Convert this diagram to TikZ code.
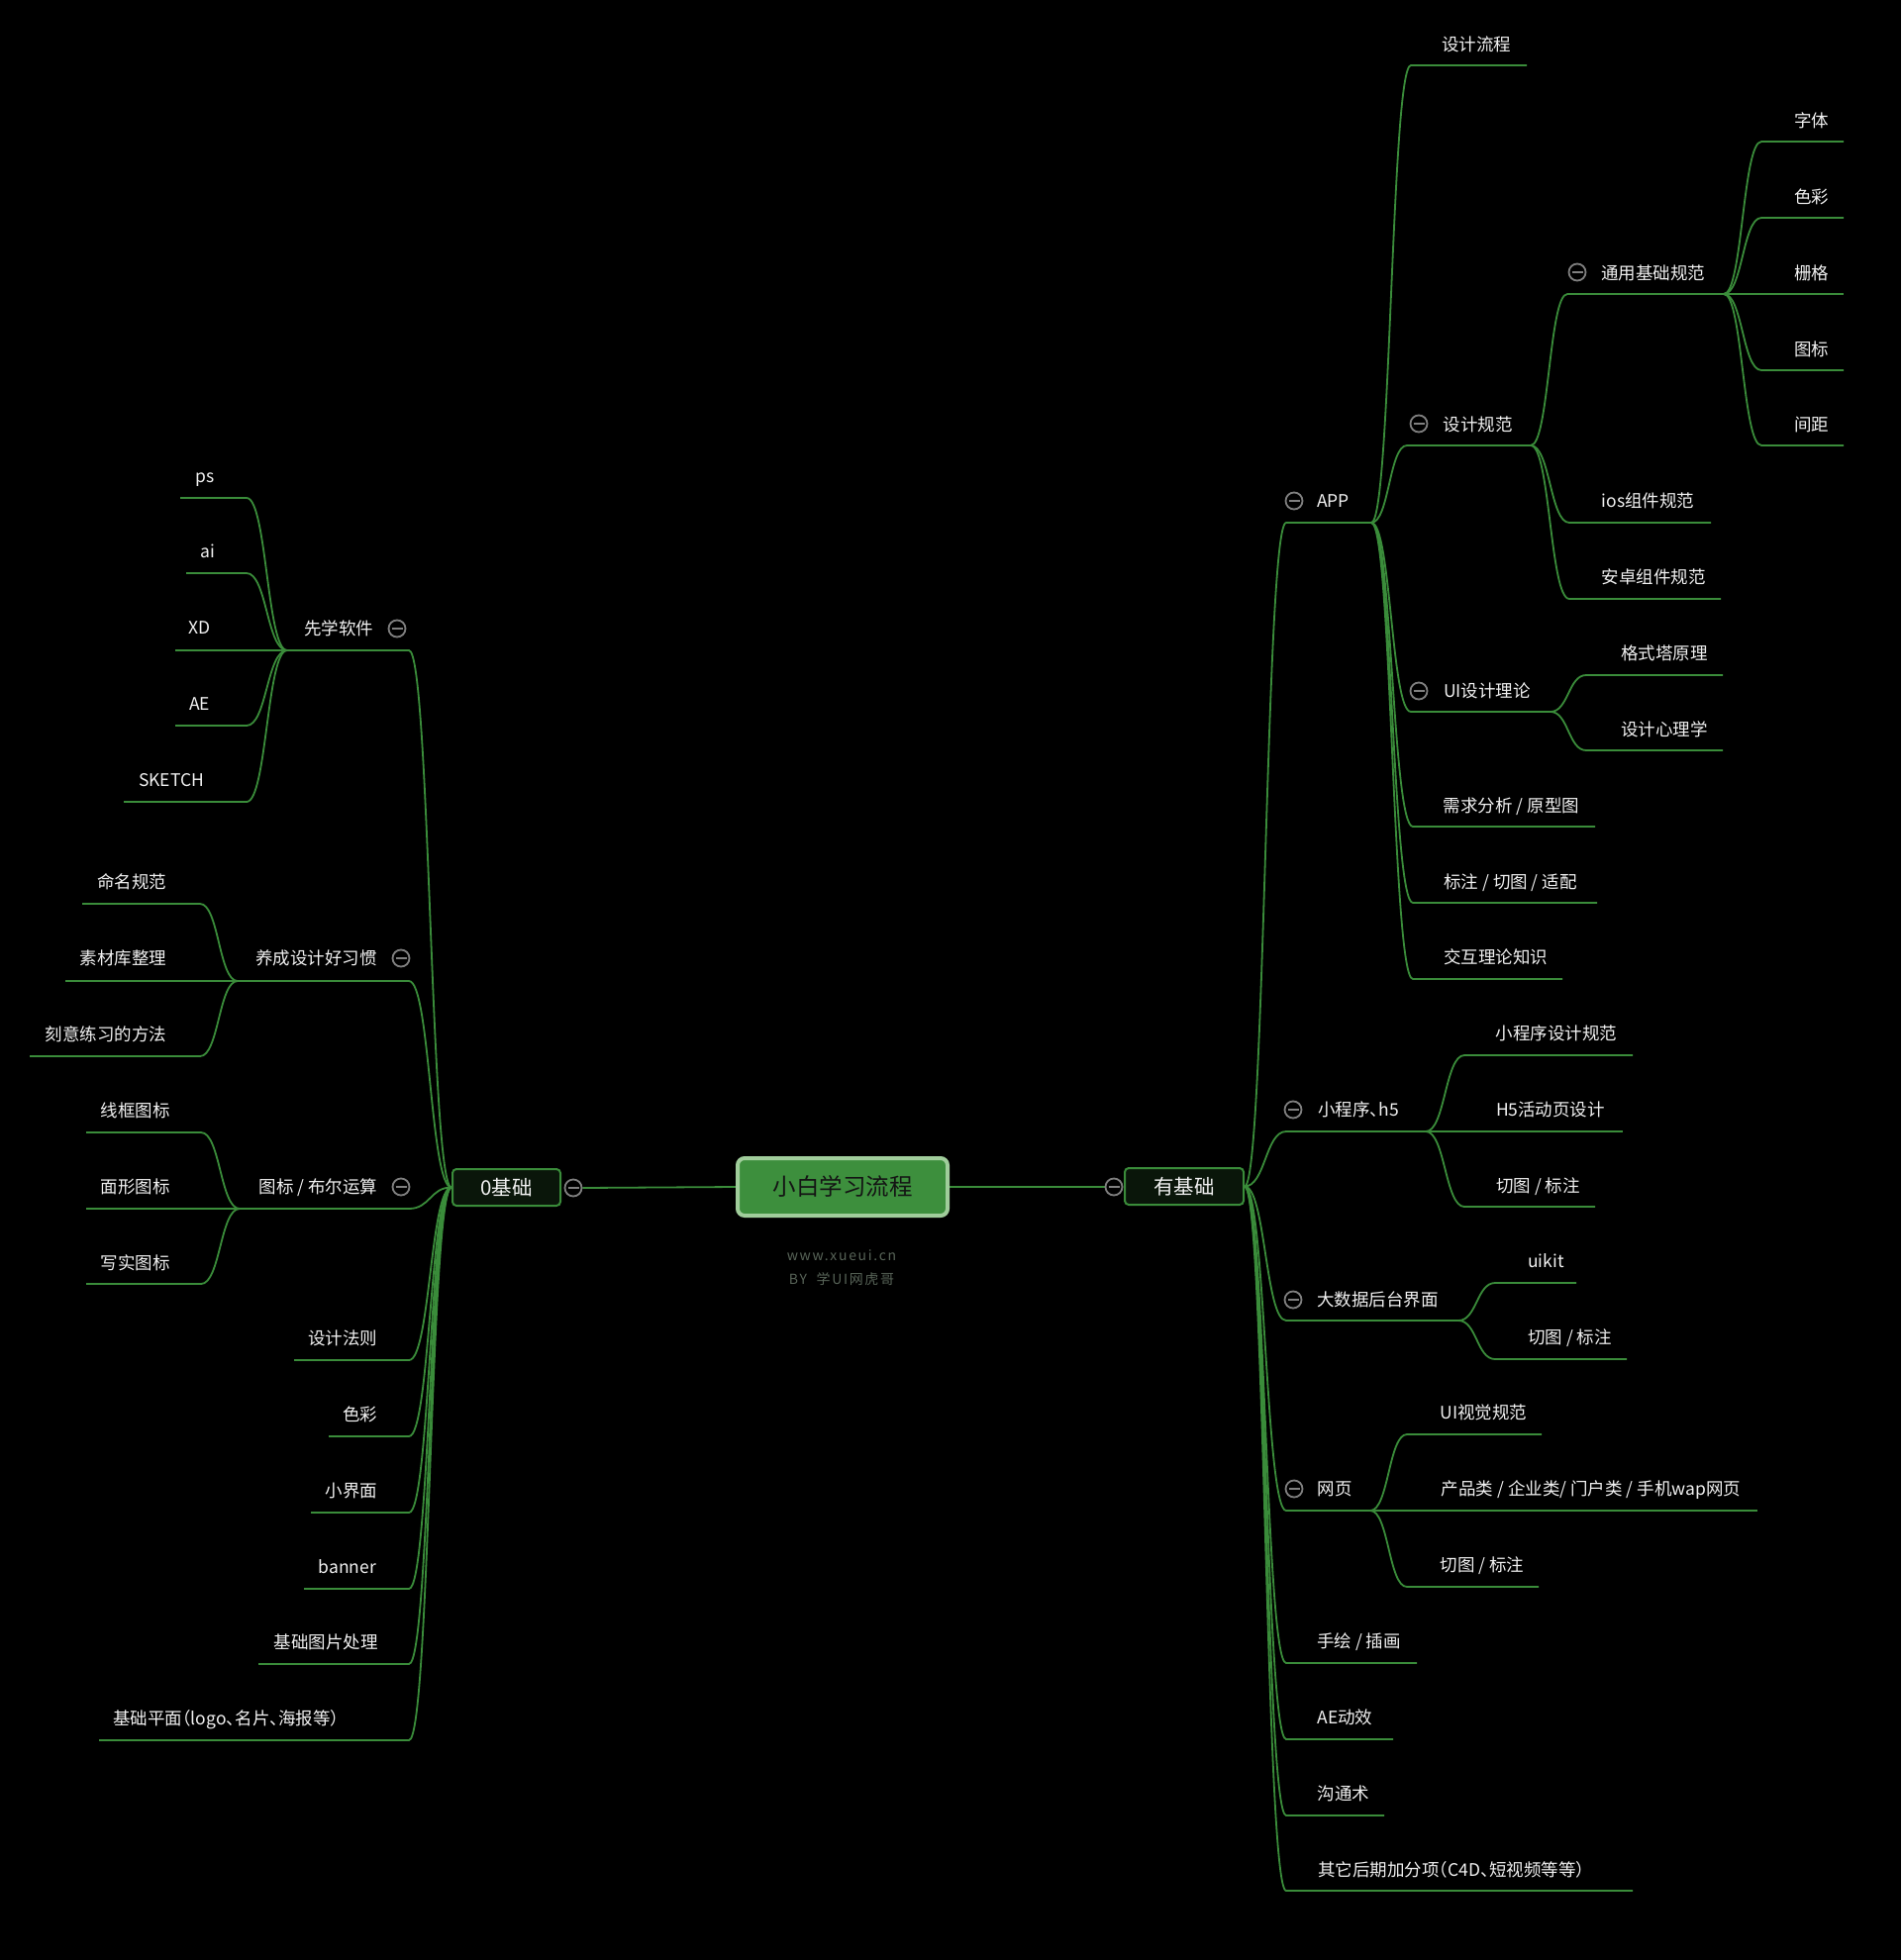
\documentclass[tikz,border=0pt]{standalone}
\usepackage{fontspec}
\setmainfont{Noto Sans CJK SC}
\newfontfamily\wmfont[LetterSpace=12]{Noto Sans CJK SC}
\usetikzlibrary{calc}
\definecolor{brgreen}{RGB}{58,140,58}
\definecolor{rootfill}{RGB}{61,143,61}
\definecolor{rootline}{RGB}{160,205,155}
\definecolor{lvfill}{RGB}{10,22,10}
\definecolor{colg}{RGB}{128,128,128}
\definecolor{wmg}{RGB}{88,100,88}
\definecolor{txtw}{RGB}{242,242,242}
\definecolor{roottxt}{RGB}{20,20,20}
\pgfdeclarelayer{bg}
\pgfsetlayers{bg,main}
\newcommand\mmbranch[3]{%
  \draw[br] let \p1=(#1), \p2=(#2) in (\p1) .. controls ({(\x1+\x2)/2},\y1) and ({(\x1+\x2)/2},\y2) .. (\p2) -- (#3);}
\newcommand\halfdun{{\addfontfeature{RawFeature=+halt}、}}
\newcommand\halfparen{{\addfontfeature{RawFeature=+halt}（}}
\begin{document}
\begin{tikzpicture}[x=1pt,y=-1pt,
  br/.style={draw=brgreen, line width=1.8pt},
  lbl/.style={text=txtw, font=\fontsize{17.5pt}{20pt}\selectfont, inner sep=0pt, text height=15.4pt, text depth=3.2pt},
  lvone/.style={draw=brgreen, fill=lvfill, line width=2pt, rounded corners=4pt, text=txtw, font=\fontsize{20.5pt}{24pt}\selectfont, inner sep=0pt, text height=18pt, text depth=2.5pt, minimum height=37pt},
  rootbox/.style={draw=rootline, fill=rootfill, line width=4pt, rounded corners=7pt, text=roottxt, font=\fontsize{23.5pt}{28pt}\selectfont, inner sep=0pt, text height=20.7pt, text depth=2.8pt, minimum width=212pt, minimum height=58pt},
  col/.style={circle, draw=colg, fill=black, line width=1.8pt, minimum size=17pt, inner sep=0pt,
    path picture={\draw[colg, line width=1.8pt] ([xshift=-5.5pt]path picture bounding box.center) -- ([xshift=5.5pt]path picture bounding box.center);}},
  wm/.style={text=wmg, font=\wmfont\fontsize{14pt}{16pt}\selectfont, inner sep=0pt}
]
\useasboundingbox (0,0) rectangle (1920,1980);
\begin{pgfonlayer}{bg}
\fill[black] (0,0) rectangle (1920,1980);
\end{pgfonlayer}

% ---------- central nodes ----------
\node[rootbox] (root) at (851,1199) {小白学习流程};
\node[lvone, minimum width=109pt] (zero) at (511.5,1199.5) {0基础};
\node[lvone, minimum width=120pt] (yjc) at (1196,1198.5) {有基础};
\node[col] (c-zero) at (579,1200) {};
\node[col] (c-yjc) at (1125,1199) {};
\node[wm] (wm1) at (850,1268) {www.xueui.cn};
\node[wm] (wm2) at (850,1292) {BY~~学UI网虎哥};

% ---------- right side coordinates ----------
\coordinate (app-l) at (1299,528);   \coordinate (app-r) at (1385,528);
\coordinate (mini-l) at (1299,1143); \coordinate (mini-r) at (1440,1143);
\coordinate (big-l) at (1299,1334);  \coordinate (big-r) at (1473,1334);
\coordinate (web-l) at (1299,1526);  \coordinate (web-r) at (1384,1526);
\coordinate (hand-l) at (1299,1680); \coordinate (hand-r) at (1431,1680);
\coordinate (aefx-l) at (1299,1757); \coordinate (aefx-r) at (1407,1757);
\coordinate (comm-l) at (1299,1834); \coordinate (comm-r) at (1398,1834);
\coordinate (oth-l) at (1299,1910);  \coordinate (oth-r) at (1649,1910);

\coordinate (flow-l) at (1425,66);   \coordinate (flow-r) at (1542,66);
\coordinate (spec-l) at (1421,450);  \coordinate (spec-r) at (1546,450);
\coordinate (uith-l) at (1425,719);  \coordinate (uith-r) at (1566,719);
\coordinate (req-l) at (1427,835);   \coordinate (req-r) at (1611,835);
\coordinate (mark-l) at (1427,912);  \coordinate (mark-r) at (1613,912);
\coordinate (inter-l) at (1427,989); \coordinate (inter-r) at (1578,989);

\coordinate (gen-l) at (1583,297);   \coordinate (gen-r) at (1741,297);
\coordinate (ios-l) at (1585,528);   \coordinate (ios-r) at (1728,528);
\coordinate (andr-l) at (1585,605);  \coordinate (andr-r) at (1738,605);

\coordinate (font-l) at (1779,143);  \coordinate (font-r) at (1862,143);
\coordinate (clr-l) at (1779,220);   \coordinate (clr-r) at (1862,220);
\coordinate (grid-r) at (1862,297);
\coordinate (icn-l) at (1779,374);   \coordinate (icn-r) at (1862,374);
\coordinate (spc-l) at (1779,450);   \coordinate (spc-r) at (1862,450);

\coordinate (gest-l) at (1602,682);  \coordinate (gest-r) at (1740,682);
\coordinate (psy-l) at (1602,758);   \coordinate (psy-r) at (1740,758);

\coordinate (mspec-l) at (1479,1066); \coordinate (mspec-r) at (1649,1066);
\coordinate (hfive-r) at (1639,1143);
\coordinate (cuta-l) at (1479,1219);  \coordinate (cuta-r) at (1611,1219);

\coordinate (uikit-l) at (1510,1296); \coordinate (uikit-r) at (1592,1296);
\coordinate (cutb-l) at (1510,1373);  \coordinate (cutb-r) at (1643,1373);

\coordinate (uivis-l) at (1421,1449); \coordinate (uivis-r) at (1557,1449);
\coordinate (prod-r) at (1775,1526);
\coordinate (cutc-l) at (1421,1603);  \coordinate (cutc-r) at (1554,1603);

% ---------- left side coordinates ----------
\coordinate (soft-r) at (413,657);   \coordinate (soft-l) at (290,657);
\coordinate (habit-r) at (413,991);  \coordinate (habit-l) at (240,991);
\coordinate (iconb-r) at (413,1221); \coordinate (iconb-l) at (242,1221);
\coordinate (law-r) at (413,1374);   \coordinate (law-l) at (297,1374);
\coordinate (clrb-r) at (413,1451);  \coordinate (clrb-l) at (332,1451);
\coordinate (small-r) at (413,1528); \coordinate (small-l) at (314,1528);
\coordinate (ban-r) at (413,1605);   \coordinate (ban-l) at (307,1605);
\coordinate (img-r) at (413,1681);   \coordinate (img-l) at (261,1681);
\coordinate (basic-r) at (413,1758); \coordinate (basic-l) at (100,1758);

\coordinate (ps-r) at (249,503);     \coordinate (ps-l) at (182,503);
\coordinate (ai-r) at (249,579);     \coordinate (ai-l) at (188,579);
\coordinate (xd-l) at (177,657);
\coordinate (ae-r) at (249,733);     \coordinate (ae-l) at (177,733);
\coordinate (sk-r) at (249,810);     \coordinate (sk-l) at (125,810);

\coordinate (nam-r) at (202,913);    \coordinate (nam-l) at (83,913);
\coordinate (mat-l) at (66,991);
\coordinate (prac-r) at (202,1067);  \coordinate (prac-l) at (30,1067);

\coordinate (wire-r) at (203,1144);  \coordinate (wire-l) at (87,1144);
\coordinate (flat-l) at (87,1221);
\coordinate (real-r) at (203,1297);  \coordinate (real-l) at (87,1297);

% ---------- connectors ----------
\begin{pgfonlayer}{bg}
\draw[br] (root.west) -- (c-zero.east);
\draw[br] (root.east) -- (c-yjc.west);
% right level 1
\mmbranch{yjc.east}{app-l}{app-r}
\mmbranch{yjc.east}{mini-l}{mini-r}
\mmbranch{yjc.east}{big-l}{big-r}
\mmbranch{yjc.east}{web-l}{web-r}
\mmbranch{yjc.east}{hand-l}{hand-r}
\mmbranch{yjc.east}{aefx-l}{aefx-r}
\mmbranch{yjc.east}{comm-l}{comm-r}
\mmbranch{yjc.east}{oth-l}{oth-r}
% APP
\mmbranch{app-r}{flow-l}{flow-r}
\mmbranch{app-r}{spec-l}{spec-r}
\mmbranch{app-r}{uith-l}{uith-r}
\mmbranch{app-r}{req-l}{req-r}
\mmbranch{app-r}{mark-l}{mark-r}
\mmbranch{app-r}{inter-l}{inter-r}
% design spec
\mmbranch{spec-r}{gen-l}{gen-r}
\mmbranch{spec-r}{ios-l}{ios-r}
\mmbranch{spec-r}{andr-l}{andr-r}
% general spec
\mmbranch{gen-r}{font-l}{font-r}
\mmbranch{gen-r}{clr-l}{clr-r}
\draw[br] (gen-r) -- (grid-r);
\mmbranch{gen-r}{icn-l}{icn-r}
\mmbranch{gen-r}{spc-l}{spc-r}
% UI theory
\mmbranch{uith-r}{gest-l}{gest-r}
\mmbranch{uith-r}{psy-l}{psy-r}
% mini program
\mmbranch{mini-r}{mspec-l}{mspec-r}
\draw[br] (mini-r) -- (hfive-r);
\mmbranch{mini-r}{cuta-l}{cuta-r}
% big data
\mmbranch{big-r}{uikit-l}{uikit-r}
\mmbranch{big-r}{cutb-l}{cutb-r}
% web
\mmbranch{web-r}{uivis-l}{uivis-r}
\draw[br] (web-r) -- (prod-r);
\mmbranch{web-r}{cutc-l}{cutc-r}
% left level 1
\mmbranch{zero.west}{soft-r}{soft-l}
\mmbranch{zero.west}{habit-r}{habit-l}
\mmbranch{zero.west}{iconb-r}{iconb-l}
\mmbranch{zero.west}{law-r}{law-l}
\mmbranch{zero.west}{clrb-r}{clrb-l}
\mmbranch{zero.west}{small-r}{small-l}
\mmbranch{zero.west}{ban-r}{ban-l}
\mmbranch{zero.west}{img-r}{img-l}
\mmbranch{zero.west}{basic-r}{basic-l}
% software
\mmbranch{soft-l}{ps-r}{ps-l}
\mmbranch{soft-l}{ai-r}{ai-l}
\draw[br] (soft-l) -- (xd-l);
\mmbranch{soft-l}{ae-r}{ae-l}
\mmbranch{soft-l}{sk-r}{sk-l}
% habits
\mmbranch{habit-l}{nam-r}{nam-l}
\draw[br] (habit-l) -- (mat-l);
\mmbranch{habit-l}{prac-r}{prac-l}
% icons
\mmbranch{iconb-l}{wire-r}{wire-l}
\draw[br] (iconb-l) -- (flat-l);
\mmbranch{iconb-l}{real-r}{real-l}
\end{pgfonlayer}

% ---------- collapse circles ----------
\node[col] (c-app) at (1307,506) {};
\node[col] (c-spec) at (1433,428) {};
\node[col] (c-gen) at (1593,275) {};
\node[col] (c-uith) at (1433,698) {};
\node[col] (c-mini) at (1306,1121) {};
\node[col] (c-big) at (1306,1313) {};
\node[col] (c-web) at (1307,1504) {};
\node[col] (c-soft) at (401,635) {};
\node[col] (c-habit) at (405,968) {};
\node[col] (c-iconb) at (405,1199) {};

% ---------- right labels ----------
\node[lbl] (t-app) at (1346.5,506) {APP};
\node[lbl] (t-flow) at (1491,45) {设计流程};
\node[lbl] (t-spec) at (1492.5,429) {设计规范};
\node[lbl] (t-gen) at (1669.5,276) {通用基础规范};
\node[lbl] (t-font) at (1829.5,122) {字体};
\node[lbl] (t-clr) at (1829.5,199) {色彩};
\node[lbl] (t-grid) at (1829.5,276) {栅格};
\node[lbl] (t-icn) at (1829.5,353) {图标};
\node[lbl] (t-spc) at (1829.5,429) {间距};
\node[lbl] (t-ios) at (1664.5,506) {ios组件规范};
\node[lbl] (t-andr) at (1670,583) {安卓组件规范};
\node[lbl] (t-uith) at (1502,698) {UI设计理论};
\node[lbl] (t-gest) at (1681,660) {格式塔原理};
\node[lbl] (t-psy) at (1681,737) {设计心理学};
\node[lbl] (t-req) at (1526.5,814) {需求分析 / 原型图};
\node[lbl] (t-mark) at (1525.5,891) {标注 / 切图 / 适配};
\node[lbl] (t-inter) at (1510.5,967) {交互理论知识};
\node[lbl, anchor=west] (t-mini) at (1331,1121) {小程序\halfdun h5};
\node[lbl] (t-mspec) at (1572,1044) {小程序设计规范};
\node[lbl] (t-hfive) at (1566,1121) {H5活动页设计};
\node[lbl] (t-cuta) at (1553.5,1198) {切图 / 标注};
\node[lbl] (t-big) at (1391.5,1313) {大数据后台界面};
\node[lbl] (t-uikit) at (1561.5,1274) {uikit};
\node[lbl] (t-cutb) at (1585.5,1351) {切图 / 标注};
\node[lbl] (t-web) at (1348,1504) {网页};
\node[lbl] (t-uivis) at (1498.5,1427) {UI视觉规范};
\node[lbl] (t-prod) at (1607,1504) {产品类 / 企业类/ 门户类 / 手机wap网页};
\node[lbl] (t-cutc) at (1497,1581) {切图 / 标注};
\node[lbl] (t-hand) at (1372.5,1658) {手绘 / 插画};
\node[lbl] (t-aefx) at (1358.5,1735) {AE动效};
\node[lbl] (t-comm) at (1357,1812) {沟通术};
\node[lbl, anchor=west] (t-oth) at (1331,1889) {其它后期加分项\halfparen C4D\halfdun 短视频等等）};

% ---------- left labels ----------
\node[lbl] (t-soft) at (342,635) {先学软件};
\node[lbl] (t-ps) at (207.5,481) {ps};
\node[lbl] (t-ai) at (210,557) {ai};
\node[lbl] (t-xd) at (202,634) {XD};
\node[lbl] (t-ae) at (201.5,711) {AE};
\node[lbl] (t-sk) at (173,788) {SKETCH};
\node[lbl] (t-habit) at (319.5,968) {养成设计好习惯};
\node[lbl] (t-nam) at (133,891) {命名规范};
\node[lbl] (t-mat) at (124.5,968) {素材库整理};
\node[lbl] (t-prac) at (107,1045) {刻意练习的方法};
\node[lbl] (t-iconb) at (321.5,1199) {图标 / 布尔运算};
\node[lbl] (t-wire) at (136.5,1122) {线框图标};
\node[lbl] (t-flat) at (136.5,1199) {面形图标};
\node[lbl] (t-real) at (136.5,1276) {写实图标};
\node[lbl] (t-law) at (346,1352) {设计法则};
\node[lbl] (t-clrb) at (363.5,1429) {色彩};
\node[lbl] (t-small) at (355,1506) {小界面};
\node[lbl] (t-ban) at (351,1583) {banner};
\node[lbl] (t-img) at (329,1659) {基础图片处理};
\node[lbl, anchor=west] (t-basic) at (114,1736) {基础平面\halfparen logo\halfdun 名片\halfdun 海报等）};
\end{tikzpicture}
\end{document}
